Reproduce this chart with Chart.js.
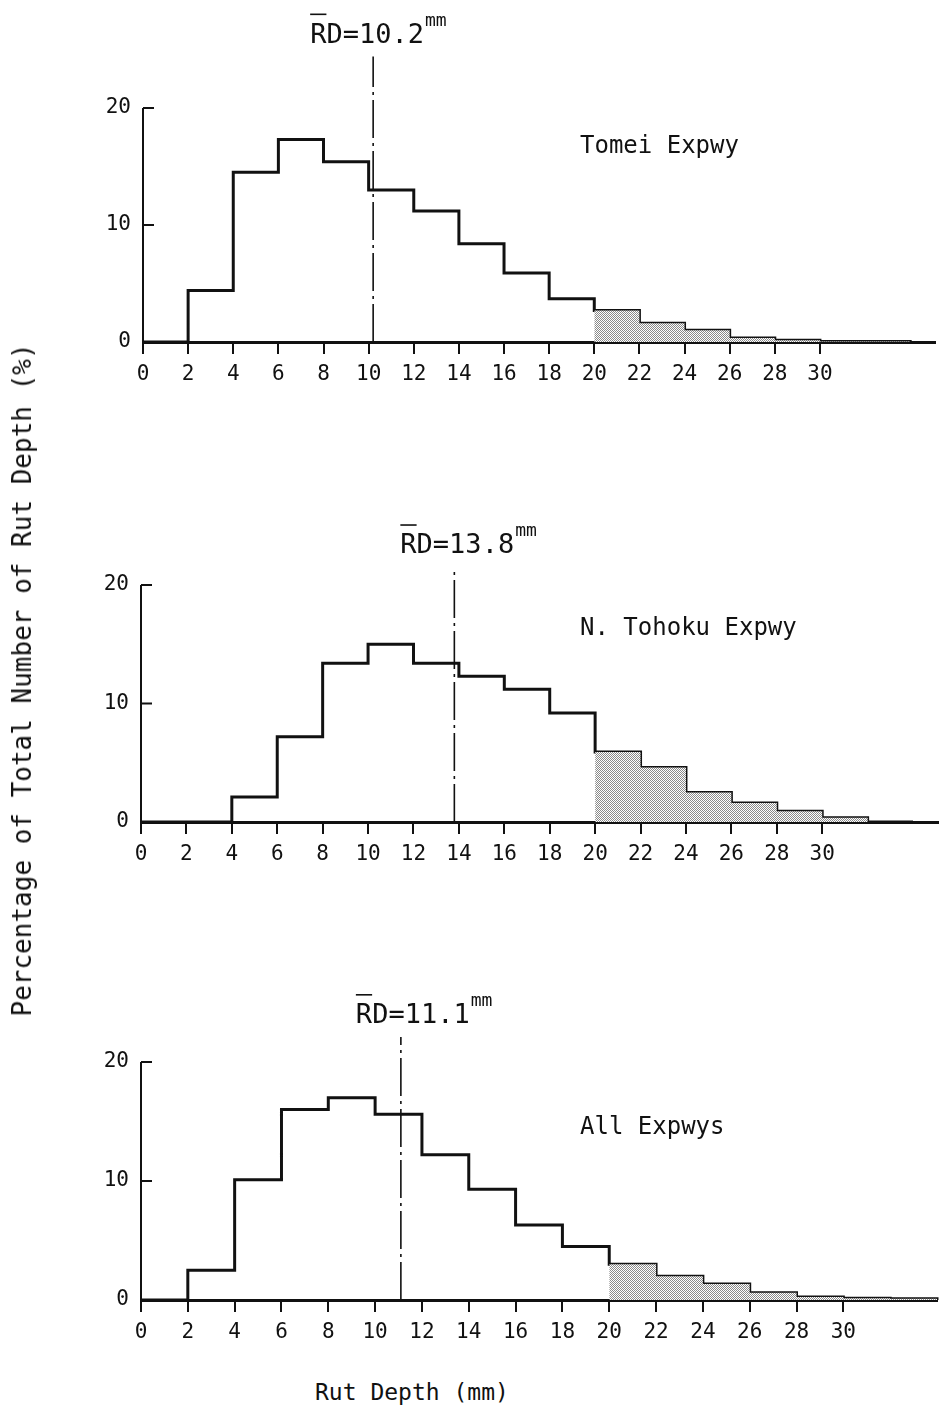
<!DOCTYPE html>
<html>
<head>
<meta charset="utf-8">
<script src="https://cdn.jsdelivr.net/npm/chart.js@4.4.0/dist/chart.umd.min.js"></script>
<style>
  body { margin: 0; background: #fff; }
  #wrap { position: relative; width: 939px; height: 1408px; overflow: hidden;
          font-family: "DejaVu Sans Mono", monospace; color: #111; }
  canvas { position: absolute; left: 0; }
  .lbl { position: absolute; white-space: nowrap; line-height: 1; transform: translateY(-50%); }
  #ytitle { position: absolute; left: 22px; top: 680px; white-space: nowrap; line-height: 1;
            font-size: 26px; transform: translate(-50%, -50%) rotate(-90deg); }
</style>
</head>
<body>
<div id="wrap">
  <canvas id="c0"></canvas>
  <canvas id="c1"></canvas>
  <canvas id="c2"></canvas>
  <div class="lbl" id="t0" style="font-size:24px"></div>
  <div class="lbl" id="t1" style="font-size:24px"></div>
  <div class="lbl" id="t2" style="font-size:24px"></div>
  <div id="ytitle">Percentage of Total Number of Rut Depth (%)</div>
  <div class="lbl" style="left:315px; top:1392px; font-size:23px">Rut Depth (mm)</div>
</div>
<script>
// start of each 2 mm bin
var binStarts = [0, 2, 4, 6, 8, 10, 12, 14, 16, 18, 20, 22, 24, 26, 28, 30, 32];
var binWidth = 2;

// % of total per bin
var tomei  = [0, 4.4, 14.5, 17.3, 15.4, 13.0, 11.2, 8.4, 5.9, 3.7, 2.7, 1.6, 1.0, 0.35, 0.15, 0.05, 0.05];
var tohoku = [0, 0, 2.1, 7.2, 13.4, 15.0, 13.4, 12.3, 11.2, 9.2, 5.9, 4.6, 2.5, 1.6, 0.9, 0.35, 0];
var allExp = [0, 2.5, 10.1, 16.0, 17.0, 15.6, 12.2, 9.3, 6.3, 4.5, 3.0, 2.0, 1.35, 0.6, 0.25, 0.15, 0.1];

var means = [10.2, 13.8, 11.1];
var meanTops = [24.4, 21.5, 22.1];
var titles = ['Tomei Expwy', 'N. Tohoku Expwy', 'All Expwys'];

var xTicks = [0, 2, 4, 6, 8, 10, 12, 14, 16, 18, 20, 22, 24, 26, 28, 30];
var yTicks = [0, 10, 20];
var shadeFrom = 20;

// page placement of each panel
var layouts = [
  { canvasTop: 0,   areaTop: 49.5,   areaBottom: 342,  areaLeft: 143, areaRight: 935, xMax: 35.1, labelDx: -63, titleY: 145 },
  { canvasTop: 470, areaTop: 525.75, areaBottom: 822,  areaLeft: 141, areaRight: 938, xMax: 35.1, labelDx: -54, titleY: 627 },
  { canvasTop: 950, areaTop: 1002.5, areaBottom: 1300, areaLeft: 141, areaRight: 937, xMax: 34,   labelDx: -45, titleY: 1126 }
];

Chart.defaults.font.family = '"DejaVu Sans Mono", monospace';
Chart.defaults.color = '#111';

function stepPoints(vals, from) {
  var pts = [];
  for (var i = 0; i < binStarts.length; i++) {
    if (binStarts[i] >= from) pts.push({ x: binStarts[i], y: vals[i] });
  }
  pts.push({ x: binStarts[binStarts.length - 1] + binWidth, y: 0 });
  return pts;
}

function makeStipple() {
  var p = document.createElement('canvas');
  p.width = 2; p.height = 2;
  var c = p.getContext('2d');
  c.fillStyle = '#fff'; c.fillRect(0, 0, 2, 2);
  c.fillStyle = '#8a8a8a';
  c.fillRect(0, 0, 1, 1);
  c.fillRect(1, 1, 1, 1);
  return c.createPattern(p, 'repeat');
}
var stipple = makeStipple();

// y axis line + inward ticks, and the mean label
var axisPlugin = {
  id: 'axisMarks',
  afterDatasetsDraw: function (chart, args, opts) {
    var ctx = chart.ctx, x = chart.scales.x, y = chart.scales.y;
    var ax = x.getPixelForValue(0);
    ctx.save();
    ctx.strokeStyle = '#111';
    ctx.lineWidth = 2;
    ctx.beginPath();
    ctx.moveTo(ax, y.getPixelForValue(yTicks[yTicks.length - 1]));
    ctx.lineTo(ax, y.getPixelForValue(0));
    yTicks.forEach(function (t) {
      var py = y.getPixelForValue(t);
      ctx.moveTo(ax, py);
      ctx.lineTo(ax + 11, py);
    });
    ctx.stroke();

    var left = x.getPixelForValue(opts.mean) + opts.dx;
    var base = y.getPixelForValue(opts.top) - 14;
    var txt = 'RD=' + opts.mean.toFixed(1);
    ctx.fillStyle = '#111';
    ctx.font = '27px "DejaVu Sans Mono"';
    ctx.textBaseline = 'alphabetic';
    ctx.fillText(txt, left, base);
    var w = ctx.measureText(txt).width;
    var rw = ctx.measureText('R').width;
    ctx.fillRect(left, base - 29, rw, 1.6);
    ctx.font = '18px "DejaVu Sans Mono"';
    ctx.fillText('mm', left + w + 1, base - 17);
    ctx.restore();
  }
};

function makePanel(i, values) {
  var L = layouts[i];
  var cv = document.getElementById('c' + i);
  cv.style.top = L.canvasTop + 'px';
  cv.width = 939;
  cv.height = L.areaBottom - L.canvasTop + 50;

  var t = document.getElementById('t' + i);
  t.textContent = titles[i];
  t.style.left = '580px';
  t.style.top = L.titleY + 'px';

  return new Chart(cv, {
    type: 'line',
    data: {
      datasets: [
        { data: stepPoints(values, shadeFrom), stepped: 'before', fill: 'origin',
          backgroundColor: stipple, borderWidth: 0, pointRadius: 0, clip: false },
        { data: stepPoints(values, 0), stepped: 'before', fill: false,
          borderColor: '#111', borderWidth: 3, pointRadius: 0, clip: 8 },
        { data: [{ x: means[i], y: 0 }, { x: means[i], y: meanTops[i] }], fill: false,
          borderColor: '#111', borderWidth: 1.6, borderDash: [38, 5, 3, 5], pointRadius: 0, clip: false }
      ]
    },
    options: {
      responsive: false,
      animation: false,
      devicePixelRatio: 1,
      layout: { padding: { top: L.areaTop - L.canvasTop, right: 939 - L.areaRight, left: 0, bottom: 0 } },
      plugins: {
        legend: { display: false },
        tooltip: { enabled: false },
        axisMarks: { mean: means[i], top: meanTops[i], dx: L.labelDx }
      },
      scales: {
        x: {
          type: 'linear', min: 0, max: L.xMax,
          afterBuildTicks: function (s) { s.ticks = xTicks.map(function (v) { return { value: v }; }); },
          afterFit: function (s) { s.height = 50; },
          border: { display: true, color: '#111', width: 3 },
          grid: { display: true, drawOnChartArea: false, drawTicks: true, tickLength: 12, color: '#111', lineWidth: 2 },
          ticks: { font: { size: 21 }, color: '#111', maxRotation: 0, autoSkip: false, padding: 8 }
        },
        y: {
          min: 0, max: 25,
          afterBuildTicks: function (s) { s.ticks = yTicks.map(function (v) { return { value: v }; }); },
          afterFit: function (s) { s.width = L.areaLeft; },
          border: { display: false },
          grid: { display: false, drawTicks: false },
          ticks: { font: { size: 21 }, color: '#111', padding: 12 }
        }
      }
    },
    plugins: [axisPlugin]
  });
}

makePanel(0, tomei);
makePanel(1, tohoku);
makePanel(2, allExp);
</script>
</body>
</html>
